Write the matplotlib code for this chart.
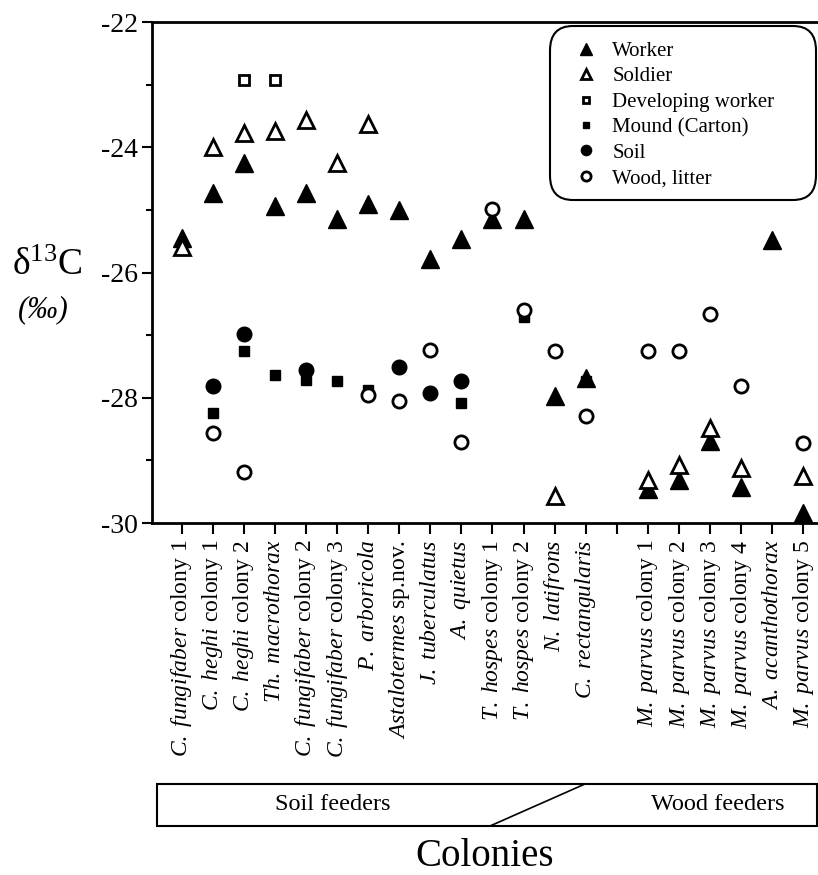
import numpy as np
import matplotlib
matplotlib.use("Agg")
import matplotlib.pyplot as plt
from matplotlib.patches import Rectangle, FancyBboxPatch
from matplotlib.lines import Line2D
from matplotlib.ticker import MultipleLocator

plt.rcParams['font.family'] = ['Liberation Serif', 'DejaVu Serif']
plt.rcParams['mathtext.fontset'] = 'custom'
plt.rcParams['mathtext.rm'] = 'Liberation Serif'
plt.rcParams['mathtext.it'] = 'Liberation Serif:italic'

# colonies (slot 15 is an empty gap between soil and wood feeders)
species = ["C. fungifaber", "C. heghi", "C. heghi", "Th. macrothorax", "C. fungifaber",
           "C. fungifaber", "P. arboricola", "Astalotermes", "J. tuberculatus", "A. quietus",
           "T. hospes", "T. hospes", "N. latifrons", "C. rectangularis", "",
           "M. parvus", "M. parvus", "M. parvus", "M. parvus", "A. acanthothorax", "M. parvus"]
suffix = ["colony 1", "colony 1", "colony 2", "", "colony 2",
          "colony 3", "", "sp.nov.", "", "",
          "colony 1", "colony 2", "", "", "",
          "colony 1", "colony 2", "colony 3", "colony 4", "", "colony 5"]

nan = np.nan
worker = [-25.45, -24.73, -24.25, -24.94, -24.73, -25.15, -24.90, -25.00, -25.78, -25.46,
          -25.14, -25.15, -27.97, -27.68, nan, -29.45, -29.31, -28.69, -29.43, -25.48, -29.84]
soldier = [-25.59, -24.00, -23.77, -23.74, -23.57, -24.25, -23.63, nan, nan, nan,
           nan, nan, -29.57, nan, nan, -29.31, -29.08, -28.49, -29.12, nan, -29.25]
dev_worker = [nan, nan, -22.93, -22.93, nan, nan, nan, nan, nan, nan,
              nan, nan, nan, nan, nan, nan, nan, nan, nan, nan, nan]
mound = [nan, -28.25, -27.26, -27.64, -27.71, -27.73, -27.87, nan, nan, -28.09,
         nan, -26.71, nan, -27.73, nan, nan, nan, nan, nan, nan, nan]
soil = [nan, -27.81, -26.98, nan, -27.56, nan, nan, -27.51, -27.92, -27.74,
        nan, nan, nan, nan, nan, nan, nan, nan, nan, nan, nan]
wood = [nan, -28.57, -29.18, nan, nan, nan, -27.96, -28.05, -27.23, -28.70,
        -24.99, -26.60, -27.26, -28.29, nan, -27.26, -27.26, -26.67, -27.81, nan, -28.73]

x = np.arange(1, len(species) + 1)

labels = []
for sp, sf in zip(species, suffix):
    if sp == "":
        labels.append("")
        continue
    it = "$\\mathit{" + sp.replace(" ", "\\ ") + "}$"
    labels.append(it + (" " + sf if sf else ""))

fig = plt.figure(figsize=(8.18, 8.75), dpi=100)
ax = fig.add_axes([152 / 818, 1 - 523 / 875, 1 - 152 / 818, 501 / 875])

ax.plot(x, worker, '^', color='black', ms=12.5, ls='none', label='Worker')
ax.plot(x, soldier, '^', mfc='white', mec='black', mew=2, ms=11, ls='none', label='Soldier')
ax.plot(x, dev_worker, 's', mfc='white', mec='black', mew=2, ms=6.5, ls='none', label='Developing worker')
ax.plot(x, mound, 's', color='black', ms=7, ls='none', label='Mound (Carton)')
ax.plot(x, soil, 'o', color='black', ms=10.5, ls='none', label='Soil')
ax.plot(x, wood, 'o', mfc='white', mec='black', mew=2, ms=9.5, ls='none', label='Wood, litter')

ax.set_xlim(0.05, 21.47)
ax.set_ylim(-30, -22)
ax.yaxis.set_minor_locator(MultipleLocator(1))
ax.set_yticks([-30, -28, -26, -24, -22])
ax.set_yticklabels(['-30', '-28', '-26', '-24', '-22'], fontsize=20)
ax.set_xticks(x)
ax.set_xticklabels(labels, rotation=90, fontsize=17, va='top', ha='center')
ax.tick_params(axis='y', which='major', direction='out', length=7, width=1.5, pad=3)
ax.tick_params(axis='y', which='minor', direction='out', length=4, width=1.5)
ax.tick_params(axis='x', direction='out', length=8, width=1.5, pad=4)
ax.spines['right'].set_visible(False)
for s in ['left', 'top', 'bottom']:
    ax.spines[s].set_linewidth(2)

# legend without its own frame, rounded box drawn separately
leg = ax.legend(loc='upper left', bbox_to_anchor=(552 / 818, 1 - 31 / 875),
                bbox_transform=fig.transFigure, fontsize=15, markerscale=0.7,
                labelspacing=0.28, handletextpad=0.1, handlelength=2.3,
                borderpad=0, frameon=False)
fig.add_artist(FancyBboxPatch((550 / 818, 1 - 200 / 875), 266 / 818, 174 / 875,
                              boxstyle='round,pad=0,rounding_size=0.028',
                              transform=fig.transFigure, facecolor='none',
                              edgecolor='black', linewidth=1.5))

# y label
fig.text(47 / 818, 1 - 266 / 875, 'δ$^{13}$C', fontsize=27, ha='center', va='center')
fig.text(43 / 818, 1 - 310 / 875, '(‰)', fontsize=22, style='italic', ha='center', va='center')

# feeder box
y0, y1 = 1 - 826 / 875, 1 - 784 / 875
fig.add_artist(Rectangle((157 / 818, y0), (817 - 157) / 818, y1 - y0, transform=fig.transFigure,
                         fill=False, edgecolor='black', linewidth=1.5))
fig.add_artist(Line2D([490 / 818, 585 / 818], [y0, y1], transform=fig.transFigure,
                      color='black', linewidth=1.2))
fig.text(333 / 818, (y0 + y1) / 2, 'Soil feeders', fontsize=17.5, ha='center', va='center')
fig.text(718 / 818, (y0 + y1) / 2, 'Wood feeders', fontsize=17.5, ha='center', va='center')
fig.text(485 / 818, 1 - 856 / 875, 'Colonies', fontsize=28, ha='center', va='center')

plt.savefig('out.png', dpi=100)
